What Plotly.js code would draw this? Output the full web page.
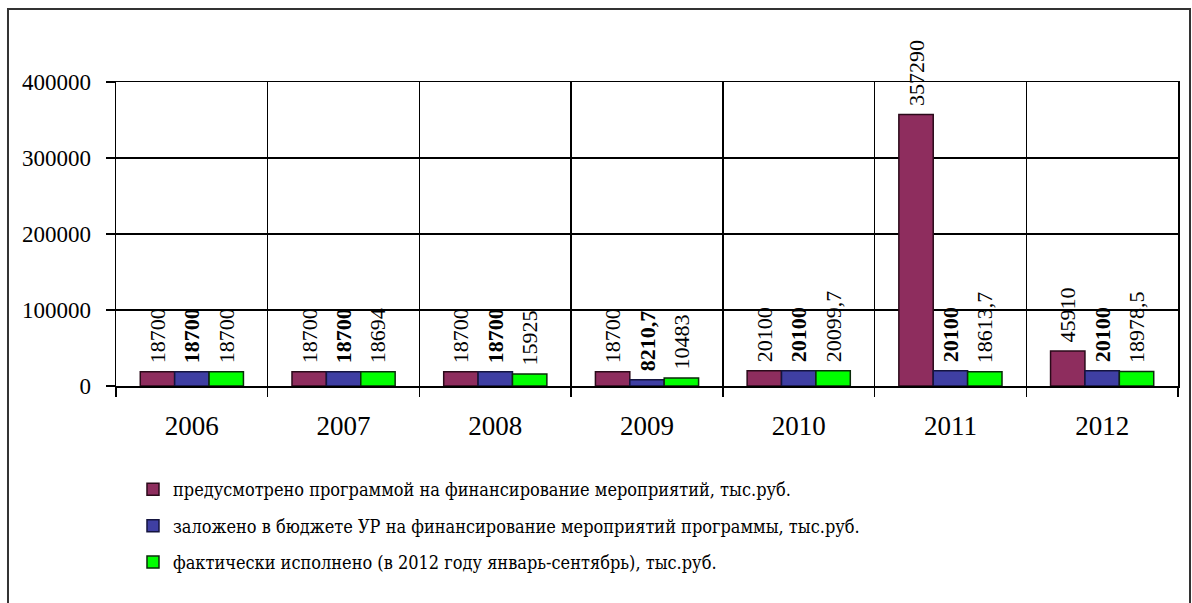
<!DOCTYPE html>
<html>
<head>
<meta charset="utf-8">
<script src="https://cdn.plot.ly/plotly-3.0.1.min.js"></script>
<style>
    html, body { margin:0; padding:0; background:#ffffff; }
    #chart { width:1192px; height:603px; }
</style>
</head>
<body>
<div id="chart"></div>
<script>

/* ==========================================
   DATA
========================================== */

const years = ["2006", "2007", "2008", "2009", "2010", "2011", "2012"];

const plannedValues = [18700, 18700, 18700, 18700, 20100, 357290, 45910];
const plannedLabels = ["18700", "18700", "18700", "18700", "20100", "357290", "45910"];

const budgetValues = [18700, 18700, 18700, 8210.7, 20100, 20100, 20100];
const budgetLabels = ["18700", "18700", "18700", "8210,7", "20100", "20100", "20100"];

const actualValues = [18700, 18694, 15925, 10483, 20099.7, 18613.7, 18978.5];
const actualLabels = ["18700", "18694", "15925", "10483", "20099,7", "18613,7", "18978,5"];

const seriesNames = [
    "предусмотрено программой на финансирование мероприятий, тыс.руб.",
    "заложено в бюджете УР на финансирование мероприятий программы, тыс.руб.",
    "фактически исполнено (в 2012 году январь-сентябрь), тыс.руб."
];

const yTicks = [0, 100000, 200000, 300000, 400000];


/* ==========================================
   DRAW
========================================== */

const FONT = "Liberation Serif";

// cyrillic text needs a serif face that carries those glyphs
const LEGEND_FONT = "DejaVu Serif Condensed, DejaVu Serif, serif";

function pad(labels){

    // small gap between bar top and rotated label
    return labels.map(t => "\u00a0" + t);

}

function makeTrace(values, labels, name, fill, edge, group, bold){

    return {

        type:"bar",

        x:years,

        y:values,

        name:name,

        legendgroup:group,

        text:pad(labels),

        texttemplate:bold ? "<b>%{text}</b>" : "%{text}",

        textposition:"outside",

        textangle:-90,

        constraintext:"none",

        cliponaxis:false,

        textfont:{ family:FONT, size:22, color:"#000000" },

        marker:{

            color:fill,

            line:{ color:edge, width:1.5 }

        },

        hoverinfo:"skip"

    };

}

const traces = [

    makeTrace(plannedValues, plannedLabels, seriesNames[0], "#8e2d5e", "#2a0a1a", "g1", false),

    makeTrace(budgetValues, budgetLabels, seriesNames[1], "#3f3fa3", "#14143f", "g2", true),

    makeTrace(actualValues, actualLabels, seriesNames[2], "#00ff00", "#0a2a0a", "g3", false)

];

const layout = {

    width:1192,

    height:603,

    paper_bgcolor:"#ffffff",

    plot_bgcolor:"#ffffff",

    font:{ family:FONT, size:22, color:"#000000" },

    margin:{ l:116, r:14, t:82, b:217, pad:0 },

    barmode:"group",

    bargap:0.32,

    bargroupgap:0,

    showlegend:true,

    legend:{

        orientation:"v",

        traceorder:"grouped",

        tracegroupgap:10,

        x:0.016,

        xanchor:"left",

        y:-0.28,

        yanchor:"top",

        font:{ family:LEGEND_FONT, size:18, color:"#000000" },

        bgcolor:"rgba(0,0,0,0)"

    },

    xaxis:{

        type:"category",

        tickson:"boundaries",

        ticks:"outside",

        ticklen:9,

        tickwidth:1.5,

        tickcolor:"#000000",

        showgrid:true,

        gridcolor:"#000000",

        gridwidth:1.5,

        showline:true,

        linecolor:"#000000",

        linewidth:1.5,

        mirror:true,

        ticklabelstandoff:15,

        tickfont:{ family:FONT, size:27, color:"#000000" },

        fixedrange:true

    },

    yaxis:{

        range:[0, 400000],

        tickvals:yTicks,

        tickformat:"d",

        ticks:"outside",

        ticklen:9,

        tickwidth:1.5,

        tickcolor:"#000000",

        showgrid:true,

        gridcolor:"#000000",

        gridwidth:1.5,

        zeroline:false,

        showline:true,

        linecolor:"#000000",

        linewidth:1.5,

        mirror:true,

        ticklabelstandoff:10,

        tickfont:{ family:FONT, size:23, color:"#000000" },

        fixedrange:true

    },

    shapes:[

        {

            // outer chart frame
            type:"rect",

            xref:"paper",

            yref:"paper",

            x0:-0.1017,

            x1:1.0113,

            y0:-0.75,

            y1:1.240,

            line:{ color:"#333333", width:2 },

            fillcolor:"rgba(0,0,0,0)",

            layer:"below"

        }

    ]

};

Plotly.newPlot("chart", traces, layout, { displayModeBar:false, staticPlot:true });

</script>
</body>
</html>
